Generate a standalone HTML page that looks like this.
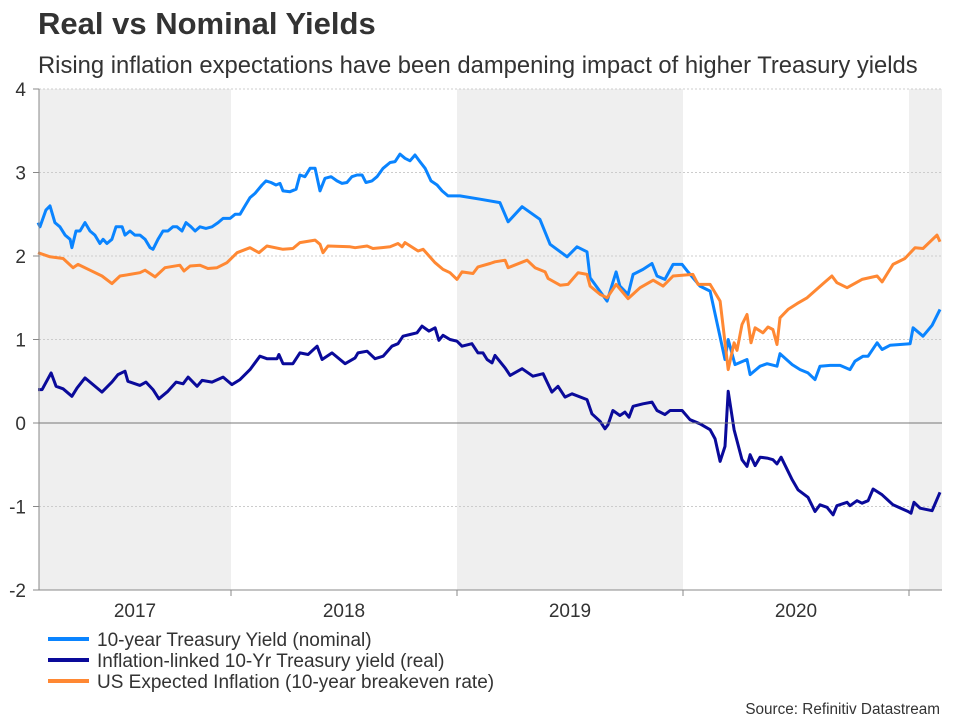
<!DOCTYPE html>
<html><head><meta charset="utf-8"><style>
body{margin:0;background:#fff;width:960px;height:720px;overflow:hidden;font-family:"Liberation Sans",Arial,sans-serif}
</style></head><body>
<svg id="chart" width="960" height="720" xmlns="http://www.w3.org/2000/svg" font-family="Liberation Sans, Arial, sans-serif">
<text x="38" y="34" font-size="31" font-weight="bold" fill="#333">Real vs Nominal Yields</text>
<text x="38" y="73" font-size="23.8" fill="#333">Rising inflation expectations have been dampening impact of higher Treasury yields</text>
<g id="bands"></g><g id="grid"></g><g id="series"></g><g id="axes"></g>
<g>
<line x1="48" y1="639" x2="89" y2="639" stroke="#0a84ff" stroke-width="4"/>
<text x="97" y="646" font-size="19" fill="#333">10-year Treasury Yield (nominal)</text>
<line x1="48" y1="660" x2="89" y2="660" stroke="#0a0a9a" stroke-width="4"/>
<text x="97" y="667" font-size="19" fill="#333">Inflation-linked 10-Yr Treasury yield (real)</text>
<line x1="48" y1="681" x2="89" y2="681" stroke="#ff8833" stroke-width="4"/>
<text x="97" y="688" font-size="19" fill="#333">US Expected Inflation (10-year breakeven rate)</text>
</g>
<text x="940" y="714" font-size="15.3" fill="#333" text-anchor="end">Source: Refinitiv Datastream</text>
</svg>
<script>
const yTicks=[-2,-1,0,1,2,3,4];
const years=[2017,2018,2019,2020,2021];
const nomT=[.146,.155,.181,.199,.221,.243,.266,.288,.296,.314,.332,.354,.376,.398,.420,.434,.451,.473,.491,.518,.531,.553,.575,.597,.620,.642,.655,.677,.699,.721,.743,.761,.783,.801,.823,.841,.863,.889,.916,.943,.965,.996,1.018,1.040,1.062,1.084,1.106,1.137,1.155,1.177,1.199,1.217,1.230,1.261,1.288,1.305,1.327,1.350,1.372,1.394,1.416,1.443,1.469,1.491,1.513,1.535,1.558,1.580,1.597,1.624,1.646,1.673,1.704,1.726,1.748,1.770,1.792,1.814,1.836,1.859,1.885,1.912,1.934,1.960,1.991,2.013,2.102,2.190,2.226,2.288,2.367,2.412,2.487,2.531,2.575,2.589,2.664,2.704,2.721,2.757,2.779,2.823,2.863,2.885,2.920,2.956,2.996,3.022,3.075,3.120,3.186,3.200,3.230,3.283,3.297,3.341,3.372,3.416,3.429,3.483,3.518,3.553,3.584,3.606,3.651,3.695,3.739,3.761,3.797,3.819,3.859,3.881,3.916,4.005,4.018,4.062,4.102,4.137];
const nomV=[2.4,2.35,2.55,2.6,2.4,2.35,2.25,2.2,2.1,2.3,2.3,2.4,2.3,2.25,2.15,2.2,2.15,2.2,2.35,2.35,2.25,2.3,2.25,2.25,2.2,2.1,2.08,2.2,2.3,2.3,2.35,2.35,2.3,2.4,2.35,2.3,2.35,2.33,2.35,2.4,2.45,2.45,2.5,2.5,2.6,2.7,2.75,2.85,2.9,2.88,2.85,2.87,2.78,2.77,2.8,2.97,2.95,3.05,3.05,2.78,2.93,2.95,2.9,2.87,2.88,2.95,2.97,2.97,2.88,2.9,2.95,3.05,3.12,3.13,3.22,3.17,3.14,3.21,3.13,3.05,2.9,2.85,2.78,2.72,2.72,2.72,2.68,2.64,2.41,2.59,2.44,2.14,1.99,2.11,2.05,1.74,1.46,1.81,1.64,1.54,1.78,1.84,1.91,1.76,1.72,1.9,1.9,1.81,1.64,1.58,0.76,1.0,0.7,0.76,0.58,0.68,0.71,0.68,0.83,0.7,0.64,0.6,0.52,0.68,0.69,0.69,0.64,0.74,0.8,0.8,0.96,0.88,0.93,0.95,1.14,1.04,1.17,1.36];
const realT=[.146,.164,.204,.226,.257,.296,.319,.354,.429,.473,.5,.531,.544,.597,.624,.655,.681,.721,.757,.788,.810,.850,.872,.916,.965,1.004,1.040,1.084,1.128,1.159,1.204,1.212,1.230,1.274,1.305,1.341,1.381,1.403,1.447,1.505,1.549,1.562,1.602,1.637,1.673,1.712,1.739,1.761,1.792,1.823,1.845,1.876,1.903,1.920,1.938,1.969,2.0,2.022,2.066,2.093,2.115,2.133,2.155,2.168,2.213,2.235,2.288,2.336,2.381,2.420,2.447,2.478,2.509,2.575,2.597,2.633,2.655,2.668,2.690,2.721,2.743,2.761,2.779,2.823,2.863,2.885,2.920,2.943,2.996,3.031,3.075,3.120,3.142,3.164,3.186,3.200,3.226,3.261,3.283,3.297,3.319,3.341,3.372,3.398,3.416,3.434,3.483,3.509,3.553,3.584,3.606,3.637,3.664,3.681,3.726,3.739,3.770,3.792,3.819,3.841,3.881,3.929,3.996,4.009,4.022,4.049,4.102,4.137];
const realV=[.4,.4,.6,.44,.41,.32,.42,.54,.37,.49,.58,.62,.5,.45,.49,.4,.29,.38,.49,.47,.55,.44,.51,.49,.55,.46,.52,.64,.8,.77,.77,.82,.71,.71,.84,.82,.92,.76,.84,.71,.78,.84,.86,.77,.8,.92,.95,1.04,1.06,1.08,1.16,1.1,1.14,.99,1.05,1.0,.98,.92,.95,.84,.84,.76,.72,.81,.66,.57,.65,.56,.59,.37,.44,.31,.35,.28,.11,.02,-.07,-.02,.15,.09,.13,.07,.2,.23,.25,.15,.1,.15,.15,.04,-.01,-.08,-.19,-.46,-.28,.38,-.08,-.44,-.52,-.38,-.51,-.41,-.42,-.44,-.49,-.41,-.68,-.8,-.89,-1.06,-.98,-1.01,-1.1,-.99,-.95,-.99,-.93,-.96,-.93,-.79,-.86,-.98,-1.06,-1.08,-.95,-1.02,-1.05,-.83];
const beT=[.146,.199,.257,.301,.323,.376,.429,.473,.509,.553,.597,.620,.664,.708,.774,.792,.819,.863,.898,.938,.982,1.027,1.084,1.124,1.159,1.230,1.274,1.305,1.372,1.394,1.407,1.429,1.527,1.549,1.602,1.628,1.704,1.739,1.757,1.770,1.828,1.850,1.903,1.938,1.969,2.0,2.022,2.071,2.093,2.146,2.168,2.213,2.226,2.310,2.345,2.390,2.403,2.456,2.491,2.536,2.575,2.589,2.633,2.664,2.704,2.757,2.810,2.868,2.912,2.956,3.044,3.067,3.120,3.164,3.200,3.226,3.239,3.261,3.283,3.301,3.319,3.354,3.376,3.398,3.416,3.429,3.465,3.505,3.549,3.620,3.659,3.681,3.726,3.792,3.859,3.881,3.929,3.982,4.027,4.062,4.124,4.137];
const beV=[2.04,1.99,1.97,1.86,1.9,1.83,1.76,1.67,1.76,1.78,1.8,1.83,1.75,1.86,1.89,1.82,1.88,1.89,1.85,1.86,1.92,2.04,2.1,2.04,2.12,2.08,2.09,2.16,2.19,2.14,2.04,2.12,2.11,2.1,2.12,2.09,2.11,2.15,2.11,2.16,2.06,2.08,1.92,1.84,1.8,1.72,1.81,1.79,1.87,1.91,1.93,1.95,1.86,1.95,1.86,1.81,1.73,1.65,1.66,1.8,1.78,1.64,1.54,1.5,1.66,1.49,1.62,1.71,1.64,1.76,1.78,1.66,1.66,1.46,0.64,0.96,0.87,1.18,1.3,0.96,1.14,1.08,1.15,1.12,0.94,1.26,1.36,1.43,1.5,1.67,1.76,1.68,1.62,1.72,1.76,1.69,1.9,1.97,2.1,2.09,2.25,2.17];

const NS='http://www.w3.org/2000/svg';
const L=39,R=942,T=89,B=590;
const xs=t=>5+t*226;
const ys=v=>T+(4-v)*(B-T)/6;
function mk(tag,attrs,parent){const e=document.createElementNS(NS,tag);for(const k in attrs)e.setAttribute(k,attrs[k]);parent.appendChild(e);return e;}
const bands=document.getElementById('bands'),grid=document.getElementById('grid'),axes=document.getElementById('axes'),series=document.getElementById('series');
years.forEach((y,i)=>{
  const a=Math.max(L,xs(y-2017)),b=Math.min(R,xs(y-2017+1));
  if(b<=a)return;
  if(i%2===0){const r=mk('rect',{x:a,y:T,width:b-a,height:B-T,fill:'#efefef'},bands);
    
    }
  if(b-a>100){const t=mk('text',{x:(a+b)/2,y:617,'font-size':19,fill:'#333','text-anchor':'middle'},axes);t.textContent=y;
    
    }
  if(i>0){const tk=mk('line',{x1:a,y1:B,x2:a,y2:B+6,stroke:'#888','stroke-width':1},axes);
    
    }
});
yTicks.forEach(v=>{
  const y=ys(v);
  if(v!==0&&v!==-2){const g=mk('line',{x1:L,y1:y,x2:R,y2:y,stroke:'#ccc','stroke-width':1,'stroke-dasharray':'2,2'},grid);
    
    }
  const tk=mk('line',{x1:33,y1:y,x2:L,y2:y,stroke:'#888'},axes);
  
  
  const t=mk('text',{x:26,y:y+7,'font-size':19,fill:'#333','text-anchor':'end'},axes);t.textContent=v;
  
  
});
const z=mk('line',{x1:L,y1:ys(0),x2:R,y2:ys(0),stroke:'#777','stroke-width':1},axes);


const yl=mk('line',{x1:L,y1:T,x2:L,y2:B,stroke:'#888'},axes);


const xl=mk('line',{x1:L,y1:B,x2:R,y2:B,stroke:'#888'},axes);


function line(T_,V,color,name){
  const d=T_.map((t,i)=>(i?'L':'M')+xs(t).toFixed(1)+','+ys(V[i]).toFixed(1)).join('');
  const p=mk('path',{d:d,fill:'none',stroke:color,'stroke-width':3,'stroke-linejoin':'round'},series);
  
  
}
line(nomT,nomV,'#0a84ff','nominal-yield-line');
line(beT,beV,'#ff8833','breakeven-line');
line(realT,realV,'#0a0a9a','real-yield-line');
</script>
</body></html>
